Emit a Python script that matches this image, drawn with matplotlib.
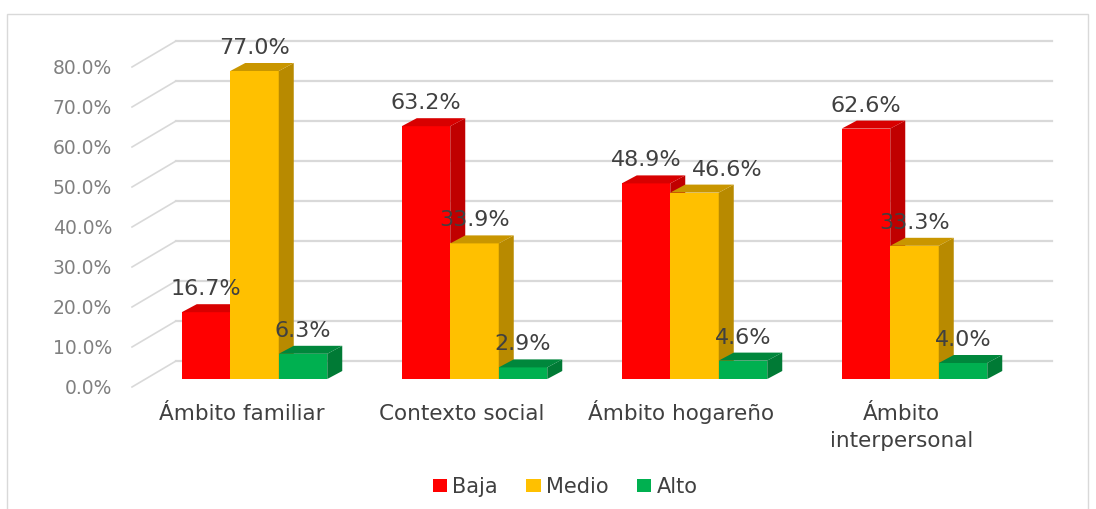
import matplotlib
matplotlib.use('Agg')
import matplotlib.pyplot as plt
from matplotlib.patches import Polygon, Rectangle
import numpy as np

# datos del gráfico
categorias = ['Ámbito familiar', 'Contexto social', 'Ámbito hogareño', 'Ámbito\ninterpersonal']
niveles = ['Baja', 'Medio', 'Alto']
baja = [16.7, 63.2, 48.9, 62.6]
medio = [77.0, 33.9, 46.6, 33.3]
alto = [6.3, 2.9, 4.6, 4.0]
ticks_y = [0, 10, 20, 30, 40, 50, 60, 70, 80]

series = [baja, medio, alto]
c_frente = ['#ff0000', '#ffc000', '#00b050']
c_lado = ['#c00000', '#b88a00', '#007a35']
c_tope = ['#d80000', '#c99600', '#00873c']

W, H = 1096, 509
fig = plt.figure(figsize=(W / 100, H / 100), dpi=100)
ax = fig.add_axes([0, 0, 1, 1])

# escala: 1 categoría = 220 px, 1 % = 4 px
PX = 1 / 220.0
PY = 1 / 4.0
x0_px, y0_px = 254.5, 379
ax.set_xlim(-x0_px * PX, (W - x0_px) * PX)
ax.set_ylim(-(H - y0_px) * PY, y0_px * PY)
ax.axis('off')

ancho = 48.5 * PX
dx = 15 * PX
dy = 8 * PY

# pared del fondo y lineas laterales
fondo_dy = 18 * PY
xa = (132 - x0_px) * PX
xb = (176 - x0_px) * PX
xc = (1052 - x0_px) * PX
for k in ticks_y:
    ax.plot([xb, xc], [k + fondo_dy, k + fondo_dy], color='#d9d9d9', lw=1.6, zorder=1)
    ax.plot([xa, xb], [k - 2, k + fondo_dy], color='#d9d9d9', lw=1.2, zorder=1)
    ax.text((112 - x0_px) * PX, k - 2.25, f'{k:.1f}%', ha='right', va='center',
            fontsize=13.5, color='#808080')

# pequeño corrimiento de etiquetas que se tocan (46.6%)
corrimiento = {(1, 2): 33 * PX}

x = np.arange(len(categorias))
desp = [-ancho, 0, ancho]
handles = []
for j, vals in enumerate(series):
    base = 3 + j
    xs = x + desp[j]
    b = ax.bar(xs, vals, width=ancho, color=c_frente[j], zorder=base, label=niveles[j])
    handles.append(b)
    for i, (xi, v) in enumerate(zip(xs, vals)):
        r = xi + ancho / 2
        l = xi - ancho / 2
        ax.add_patch(Polygon([(r, 0), (r + dx, dy), (r + dx, v + dy), (r, v)],
                             closed=True, facecolor=c_lado[j], edgecolor='none', zorder=base + 0.5))
        ax.add_patch(Polygon([(l, v), (r, v), (r + dx, v + dy), (l + dx, v + dy)],
                             closed=True, facecolor=c_tope[j], edgecolor='none', zorder=base + 0.6))
        ax.text(xi + corrimiento.get((j, i), 0), v + 5.75, f'{v:.1f}%', ha='center', va='center',
                fontsize=16, color='#404040', zorder=10)

for i, cat in enumerate(categorias):
    for n, linea in enumerate(cat.split('\n')):
        ax.text(i - 13 * PX, -10.25 - n * 27 * PY, linea, ha='center', va='baseline',
                fontsize=15.5, color='#404040')

fig.legend(handles=handles, labels=niveles, loc='center', bbox_to_anchor=(565 / W, 1 - 487 / H),
           ncol=3, frameon=False, fontsize=15, handlelength=0.7, handleheight=0.6,
           handletextpad=0.25, columnspacing=1.35, labelcolor='#404040')

fig.patches.append(Rectangle((7 / W, -0.01), (1088 - 7) / W, 1 - 14 / H + 0.01, fill=False,
                             edgecolor='#d9d9d9', lw=1, transform=fig.transFigure))

fig.savefig('out.png', dpi=100)
